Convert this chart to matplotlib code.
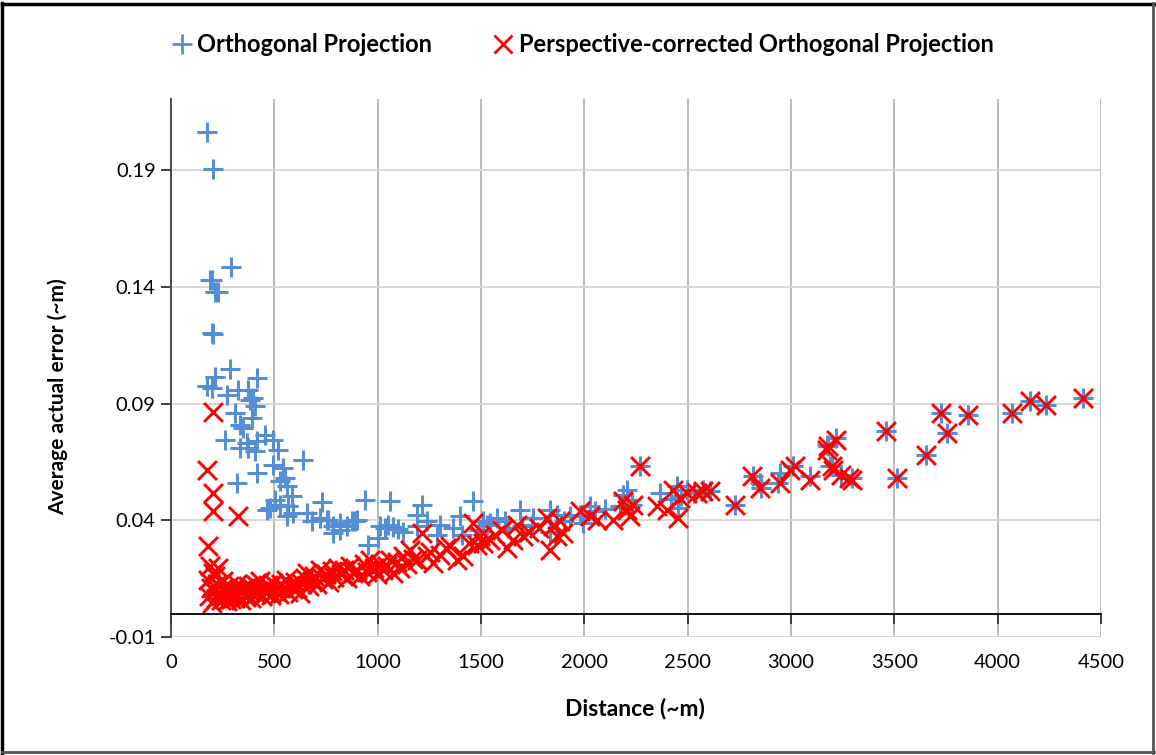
import matplotlib
matplotlib.use("Agg")
import matplotlib.pyplot as plt
from matplotlib.lines import Line2D

# ---- data (distance in ~m, average actual error in ~m) ----
ortho_dist = [174, 202, 290, 197, 189, 213, 227, 197, 205, 285, 213, 415, 173, 197, 269, 326,
              374, 398, 382, 406, 310, 334, 390, 350, 261, 334, 374, 366, 415, 455, 495, 519,
              406, 495, 640, 415, 318, 543, 552, 560, 527, 584, 503, 463, 527, 568, 592, 560,
              656, 729, 721, 761, 681, 818, 874, 479, 753, 785, 818, 850, 898, 785, 939, 1060,
              890, 955, 1011, 1035, 1050, 1075, 1100, 1122, 1003, 1213, 1189, 1285, 1189, 1240,
              1300, 1463, 1398, 1366, 1406, 1490, 1510, 1527, 1545, 1576, 1616, 1630, 1688, 1700,
              1745, 1750, 1834, 1866, 1834, 1900, 1930, 1979, 1995, 2027, 2050, 2100, 2172, 2188,
              2205, 2210, 2230, 2269, 2366, 2420, 2447, 2454, 2470, 2495, 2530, 2576, 2608, 2729,
              2817, 2850, 2857, 2938, 2946, 3011, 3091, 3172, 3188, 3180, 3220, 3196, 3244, 3293,
              3462, 3511, 3653, 3728, 3753, 3857, 4071, 4155, 4236, 4414]
ortho_err = [0.2064, 0.1904, 0.1487, 0.1430, 0.1430, 0.1380, 0.1380, 0.1202, 0.1200, 0.1050,
             0.1016, 0.1010, 0.0974, 0.0967, 0.0938, 0.0959, 0.0959, 0.0924, 0.0916, 0.0888,
             0.0860, 0.0810, 0.0838, 0.0795, 0.0745, 0.0710, 0.0710, 0.0731, 0.0738, 0.0767,
             0.0745, 0.0702, 0.0695, 0.0638, 0.0660, 0.0603, 0.0560, 0.0624, 0.0581, 0.0545,
             0.0567, 0.0502, 0.0488, 0.0445, 0.0467, 0.0460, 0.0431, 0.0417, 0.0431, 0.0480,
             0.0410, 0.0403, 0.0395, 0.0388, 0.0395, 0.0453, 0.0403, 0.0374, 0.0360, 0.0374,
             0.0403, 0.0346, 0.0488, 0.0481, 0.0395, 0.0296, 0.0374, 0.0366, 0.0380, 0.0372,
             0.0362, 0.0352, 0.0324, 0.0467, 0.0424, 0.0338, 0.0374, 0.0395, 0.0380, 0.0481,
             0.0417, 0.0367, 0.0338, 0.0360, 0.0395, 0.0381, 0.0388, 0.0410, 0.0395, 0.0367,
             0.0445, 0.0374, 0.0381, 0.0410, 0.0445, 0.0424, 0.0352, 0.0395, 0.0417, 0.0424,
             0.0388, 0.0460, 0.0438, 0.0450, 0.0460, 0.0510, 0.0531, 0.0488, 0.0467, 0.0631,
             0.0517, 0.0490, 0.0545, 0.0453, 0.0503, 0.0531, 0.0517, 0.0530, 0.0524, 0.0467,
             0.0588, 0.0560, 0.0538, 0.0560, 0.0603, 0.0631, 0.0588, 0.0724, 0.0631, 0.0717,
             0.0753, 0.0631, 0.0595, 0.0581, 0.0781, 0.0581, 0.0681, 0.0860, 0.0774, 0.0852,
             0.0860, 0.0910, 0.0895, 0.0924]

persp_dist = [173, 205, 205, 205, 326, 178, 181, 185, 189, 192, 197, 203, 208, 213, 218, 224,
              229, 236, 241, 247, 253, 259, 266, 272, 279, 285, 292, 298, 305, 312, 319, 326,
              333, 341, 349, 356, 364, 372, 380, 388, 396, 405, 413, 421, 431, 440, 449, 458,
              467, 476, 486, 495, 505, 514, 524, 534, 544, 555, 566, 577, 588, 600, 612, 624,
              636, 648, 656, 668, 681, 694, 707, 721, 735, 749, 763, 777, 791, 806, 821, 836,
              851, 866, 882, 898, 915, 932, 948, 963, 980, 996, 1011, 1027, 1043, 1060, 1076,
              1092, 1108, 1124, 1140, 1156, 1172, 1189, 1213, 1237, 1253, 1269, 1300, 1330, 1350,
              1382, 1414, 1440, 1463, 1480, 1495, 1511, 1543, 1570, 1600, 1624, 1656, 1672, 1705,
              1730, 1780, 1818, 1834, 1850, 1866, 1880, 1898, 1979, 2027, 2060, 2140, 2188, 2205,
              2221, 2237, 2269, 2350, 2398, 2430, 2454, 2463, 2495, 2543, 2576, 2608, 2729, 2809,
              2850, 2946, 2995, 3019, 3091, 3172, 3204, 3180, 3220, 3196, 3244, 3280, 3293, 3462,
              3511, 3653, 3728, 3753, 3857, 4071, 4155, 4236, 4414]
persp_err = [0.0617, 0.0866, 0.0517, 0.0438, 0.0417, 0.0288, 0.0146, 0.0074, 0.0203, 0.0110,
             0.0045, 0.0175, 0.0095, 0.0160, 0.0065, 0.0125, 0.0196, 0.0085, 0.0058, 0.0105,
             0.0138, 0.0072, 0.0094, 0.0055, 0.0118, 0.0081, 0.0062, 0.0102, 0.0088, 0.0068,
             0.0125, 0.0078, 0.0096, 0.0058, 0.0109, 0.0084, 0.0071, 0.0118, 0.0092, 0.0066,
             0.0104, 0.0128, 0.0083, 0.0097, 0.0138, 0.0075, 0.0112, 0.0089, 0.0124, 0.0101,
             0.0079, 0.0133, 0.0095, 0.0115, 0.0085, 0.0126, 0.0108, 0.0146, 0.0091, 0.0121,
             0.0104, 0.0135, 0.0112, 0.0088, 0.0128, 0.0152, 0.0174, 0.0118, 0.0141, 0.0163,
             0.0127, 0.0188, 0.0149, 0.0171, 0.0135, 0.0182, 0.0158, 0.0196, 0.0168, 0.0188,
             0.0154, 0.0203, 0.0176, 0.0188, 0.0162, 0.0214, 0.0178, 0.0231, 0.0195, 0.0168,
             0.0212, 0.0188, 0.0205, 0.0231, 0.0174, 0.0222, 0.0196, 0.0245, 0.0212, 0.0274,
             0.0236, 0.0231, 0.0346, 0.0245, 0.0266, 0.0217, 0.0252, 0.0281, 0.0288, 0.0231,
             0.0245, 0.0302, 0.0388, 0.0295, 0.0331, 0.0303, 0.0317, 0.0338, 0.0360, 0.0281,
             0.0317, 0.0381, 0.0331, 0.0352, 0.0367, 0.0410, 0.0274, 0.0374, 0.0331, 0.0395,
             0.0346, 0.0438, 0.0417, 0.0403, 0.0403, 0.0481, 0.0445, 0.0417, 0.0467, 0.0631,
             0.0460, 0.0445, 0.0531, 0.0410, 0.0496, 0.0517, 0.0517, 0.0524, 0.0524, 0.0467,
             0.0588, 0.0538, 0.0560, 0.0617, 0.0631, 0.0574, 0.0702, 0.0617, 0.0717, 0.0745,
             0.0631, 0.0595, 0.0581, 0.0574, 0.0781, 0.0581, 0.0681, 0.0860, 0.0774, 0.0852,
             0.0860, 0.0910, 0.0895, 0.0924]

x_ticks = [0, 500, 1000, 1500, 2000, 2500, 3000, 3500, 4000, 4500]
y_ticks = [-0.01, 0.04, 0.09, 0.14, 0.19]
series_names = ["Orthogonal Projection", "Perspective-corrected Orthogonal Projection"]

BLUE = "#558ed5"
RED = "#ff0000"
FONT = "Lato"

plt.rcParams['font.family'] = [FONT, 'DejaVu Sans']

fig = plt.figure(figsize=(11.56, 7.55), dpi=100)
ax = fig.add_axes([171/1156, 1-637/755, (1101-171)/1156, (637-99)/755])

ax.scatter(ortho_dist, ortho_err, marker='+', s=210, linewidths=2.2, color=BLUE, zorder=3)
ax.scatter(persp_dist, persp_err, marker='x', s=185, linewidths=2.1, color=RED, zorder=4)

ax.set_xlim(0, 4500)
ax.set_ylim(-0.01, 0.2205)
ax.set_xticks(x_ticks)
ax.set_yticks(y_ticks)
ax.set_yticklabels([f"{v:g}" for v in y_ticks])

# grids
ax.grid(axis='x', color='#b4b4b4', linewidth=1.3, zorder=0)
ax.grid(axis='y', color='#d4d4d4', linewidth=1.3, zorder=0)
ax.set_axisbelow(True)

for s in ['top', 'right']:
    ax.spines[s].set_visible(False)
ax.spines['left'].set_color('#404040')
ax.spines['left'].set_linewidth(1.3)
ax.spines['bottom'].set_position(('data', 0))
ax.spines['bottom'].set_color('black')
ax.spines['bottom'].set_linewidth(1.3)

ax.tick_params(axis='x', direction='out', length=7, width=1.3, color='#303030',
               pad=22, labelsize=14.5)
ax.tick_params(axis='y', direction='out', length=7, width=1.3, color='#303030',
               pad=4, labelsize=14.5)

ax.set_xlabel("Distance (~m)", fontsize=16.5, fontweight='bold')
ax.xaxis.set_label_coords((635-171)/930, (637-698)/538)
ax.set_ylabel("Average actual error (~m)", fontsize=15, fontweight='bold')
ax.yaxis.set_label_coords((68-171)/930, (637-397)/538)

handles = [Line2D([], [], marker='+', linestyle='none', color=BLUE, markersize=14, markeredgewidth=2),
           Line2D([], [], marker='x', linestyle='none', color=RED, markersize=13, markeredgewidth=2)]
fig.legend(handles, series_names, loc='center', bbox_to_anchor=(583/1156, 1-45/755), ncol=2,
           frameon=False, prop={'family': FONT, 'weight': 'bold', 'size': 17},
           handlelength=0.8, handletextpad=0.25, columnspacing=2.6)

# outer frame
fig.add_artist(Line2D([0.002, 0.002], [0.003, 0.996], transform=fig.transFigure, color='black', linewidth=2.5))
fig.add_artist(Line2D([0.002, 0.998], [0.995, 0.995], transform=fig.transFigure, color='black', linewidth=2.5))
fig.add_artist(Line2D([0.997, 0.997], [0.003, 0.996], transform=fig.transFigure, color='#555555', linewidth=2))
fig.add_artist(Line2D([0.002, 0.998], [0.004, 0.004], transform=fig.transFigure, color='#555555', linewidth=2))

fig.savefig("out.png", dpi=100)
